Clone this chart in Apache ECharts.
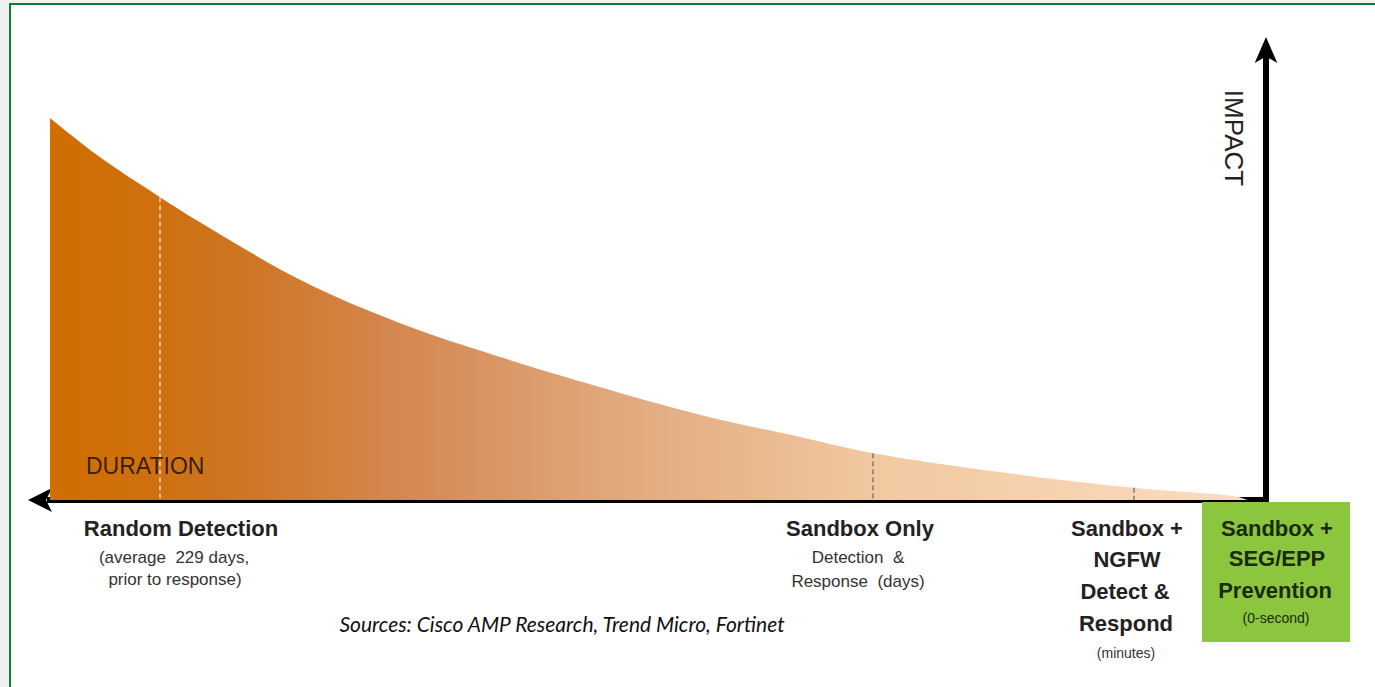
<!DOCTYPE html>
<html>
<head>
<meta charset="utf-8">
<script src="https://cdn.jsdelivr.net/npm/echarts@6/dist/echarts.min.js"></script>
<style>
  html, body { margin: 0; padding: 0; background: #f0f0f0; }
  #chart { width: 1375px; height: 687px; }
</style>
</head>
<body>
<div id="chart"></div>
<script>
// Timeline position (0 = slowest response, 100 = instant prevention)
const curveX = [0, 4.1, 9.05, 12.3, 20.6, 28.8, 37.0, 45.2, 53.5, 61.7, 67.7, 78.1, 89.1, 97.3, 98.5];
// Impact of a threat at each point on the timeline
const curveY = [84.9, 76.2, 67.3, 61.8, 48.9, 39.3, 31.8, 25.1, 18.9, 14.0, 10.4, 6.2, 2.7, 0.9, 0];
// Detection milestones marked with dashed drop lines
const milestoneX = [9.05, 67.7, 89.1];

const FONT = '"Liberation Sans", Arial, sans-serif';

const chart = echarts.init(document.getElementById('chart'), null, { renderer: 'svg' });

const curveData = curveX.map((x, i) => [x, curveY[i]]);

const dropColors = ['rgba(235,222,210,0.85)', '#7a7a7a', '#7a7a7a'];
const dropLines = milestoneX.map((mx, i) => {
  const y = curveY[curveX.indexOf(mx)];
  return [
    { coord: [mx, y], lineStyle: { color: dropColors[i] } },
    { coord: [mx, 0] }
  ];
});

function txt(x, y, text, size, weight, color, align, extra) {
  return Object.assign({
    type: 'text',
    x: x, y: y,
    z: 100,
    silent: true,
    style: {
      text: text,
      font: (weight || 'normal') + ' ' + size + 'px ' + FONT,
      fill: color || '#222',
      textAlign: align || 'center',
      textVerticalAlign: 'middle'
    }
  }, extra || {});
}

const graphics = [
  // page frame
  { type: 'rect', shape: { x: 10, y: 4, width: 1420, height: 720 }, z: -10,
    style: { fill: '#ffffff', stroke: '#0b7b3e', lineWidth: 2 }, silent: true },
  // prevention box
  { type: 'rect', shape: { x: 1202, y: 502, width: 148, height: 140 }, z: 50,
    style: { fill: '#8cc63f' }, silent: true },

  txt(86, 466, 'DURATION', 23, 'normal', 'rgba(35,20,5,0.9)', 'left'),
  txt(1234, 138, 'IMPACT', 26, 'normal', '#222', 'center', { rotation: -Math.PI / 2 }),

  txt(181, 528, 'Random Detection', 22, 'bold', '#222'),
  txt(174, 557, '(average  229 days,', 17, 'normal', '#333'),
  txt(175, 579, 'prior to response)', 17, 'normal', '#333'),

  txt(860, 528, 'Sandbox Only', 22, 'bold', '#222'),
  txt(858, 557, 'Detection  &', 17, 'normal', '#333'),
  txt(858, 581, 'Response  (days)', 17, 'normal', '#333'),

  txt(1127, 528, 'Sandbox +', 22, 'bold', '#222'),
  txt(1127, 559, 'NGFW', 22, 'bold', '#222'),
  txt(1125, 591, 'Detect &', 22, 'bold', '#222'),
  txt(1126, 623, 'Respond', 22, 'bold', '#222'),
  txt(1126, 653, '(minutes)', 14, 'normal', '#333'),

  txt(1277, 528, 'Sandbox +', 22, 'bold', '#1a2a0a'),
  txt(1277, 558, 'SEG/EPP', 22, 'bold', '#1a2a0a'),
  txt(1275, 590, 'Prevention', 22, 'bold', '#1a2a0a'),
  txt(1276, 618, '(0-second)', 14, 'normal', '#1a2a0a'),

  { type: 'text', x: 562, y: 623, z: 100, silent: true,
    style: { text: 'Sources: Cisco AMP Research, Trend Micro, Fortinet',
      font: 'italic 21px Lato, "Liberation Sans", sans-serif', fill: '#111',
      textAlign: 'center', textVerticalAlign: 'middle' } }
];

chart.setOption({
  animation: false,
  backgroundColor: '#f0f0f0',
  grid: { left: 50, right: 109, top: 50, bottom: 187, containLabel: false },
  xAxis: {
    type: 'value', min: 0, max: 100,
    axisLine: {
      show: true, onZero: false,
      symbol: ['arrow', 'none'], symbolSize: [18, 24], symbolOffset: [-22, 0],
      lineStyle: { color: '#000', width: 6, cap: 'square' }
    },
    axisTick: { show: false }, axisLabel: { show: false }, splitLine: { show: false }
  },
  yAxis: {
    type: 'value', min: 0, max: 100, position: 'right',
    axisLine: {
      show: true, onZero: false,
      symbol: ['none', 'arrow'], symbolSize: [17, 26], symbolOffset: [0, 13],
      lineStyle: { color: '#000', width: 6, cap: 'square' }
    },
    axisTick: { show: false }, axisLabel: { show: false }, splitLine: { show: false }
  },
  series: [{
    type: 'line',
    data: curveData,
    smooth: 0.35,
    showSymbol: false,
    silent: true,
    z: 1,
    lineStyle: { width: 0 },
    areaStyle: {
      opacity: 1,
      color: new echarts.graphic.LinearGradient(0, 0, 1, 0, [
        { offset: 0.00, color: '#d06e00' },
        { offset: 0.09, color: '#cf7010' },
        { offset: 0.17, color: '#ce7626' },
        { offset: 0.29, color: '#d4874f' },
        { offset: 0.46, color: '#e0a67b' },
        { offset: 0.69, color: '#f1c8a0' },
        { offset: 0.90, color: '#f8d6b5' },
        { offset: 1.00, color: '#fbdcc0' }
      ])
    },
    markLine: {
      silent: true,
      symbol: ['none', 'none'],
      label: { show: false },
      lineStyle: { type: [5, 3], width: 1.5, color: '#7a7a7a' },
      data: dropLines
    }
  }],
  graphic: graphics
});
</script>
</body>
</html>
